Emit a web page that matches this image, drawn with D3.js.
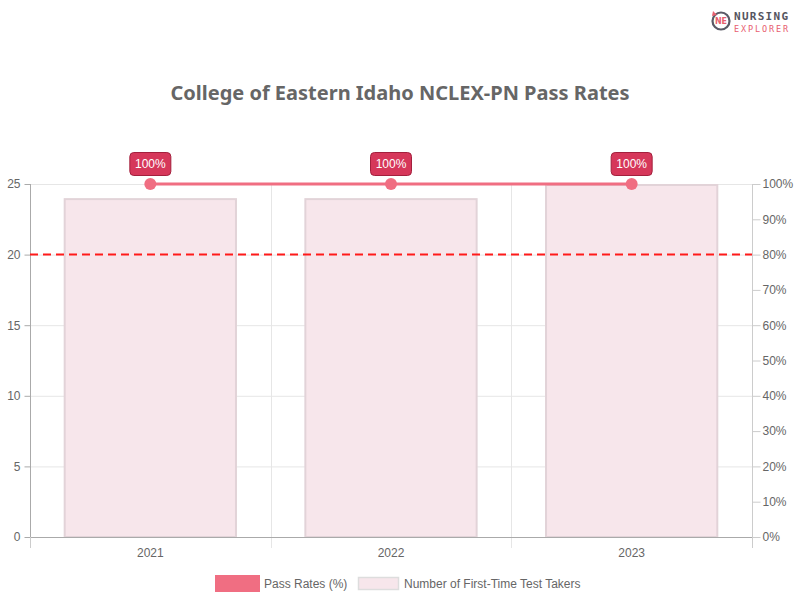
<!DOCTYPE html>
<html><head><meta charset="utf-8">
<script src="https://cdn.jsdelivr.net/npm/d3@7"></script>
<style>body{margin:0;background:#fff}svg{display:block}</style>
</head><body>
<svg id="c" width="800" height="600"></svg>
<script>
const years = ["2021","2022","2023"];
const takers = [24,24,25];
const passRates = [100,100,100];
const leftTicks = [0,5,10,15,20,25];
const rightTicks = [0,10,20,30,40,50,60,70,80,90,100];
const benchmark = 80;
const title = "College of Eastern Idaho NCLEX-PN Pass Rates";
const legendLabels = ["Pass Rates (%)","Number of First-Time Test Takers"];

const svg = d3.select("#c");
const font = "'Liberation Sans', Arial, sans-serif";
const L=30,R=752,T=184,B=537;
const x = d3.scaleBand().domain(years).range([L,R]);
const yL = d3.scaleLinear().domain([0,25]).range([B,T]);
const yR = d3.scaleLinear().domain([0,100]).range([B,T]);

// grid
svg.append("g").selectAll("line").data(leftTicks).join("line")
  .attr("x1",L).attr("x2",R).attr("y1",d=>yL(d)+0.5).attr("y2",d=>yL(d)+0.5)
  .attr("stroke","#e6e6e6");
svg.append("g").selectAll("line").data(years.slice(1)).join("line")
  .attr("x1",d=>Math.round(x(d))+0.5).attr("x2",d=>Math.round(x(d))+0.5).attr("y1",T).attr("y2",B+11)
  .attr("stroke","#e6e6e6");

// bars
const bw = x.bandwidth()*0.72;
svg.append("g").selectAll("rect").data(takers).join("rect")
  .attr("x",(d,i)=>x(years[i])+(x.bandwidth()-bw)/2+1)
  .attr("y",d=>yL(d)+1).attr("width",bw-2).attr("height",d=>B-yL(d)-1)
  .attr("fill","#f7e6eb").attr("stroke","#e2d3d8").attr("stroke-width",2);

// left axis
const gl = svg.append("g").attr("transform",`translate(${L+0.5},0)`)
  .call(d3.axisLeft(yL).tickValues(leftTicks).tickSize(6).tickPadding(4));
gl.select(".domain").attr("stroke","#aaa").attr("d",`M0,${T}V${B}`);
gl.selectAll(".tick line").attr("stroke","#aaa");
gl.selectAll("text").attr("fill","#666").style("font",`12px ${font}`);

// right axis
const gr = svg.append("g").attr("transform",`translate(${R+0.5},0)`)
  .call(d3.axisRight(yR).tickValues(rightTicks).tickFormat(d=>d+"%").tickSize(8).tickPadding(2));
gr.select(".domain").attr("stroke","#ccc").attr("d",`M0,${T}V${B}`);
gr.selectAll(".tick line").attr("stroke","#ccc");
gr.selectAll("text").attr("fill","#666").style("font",`12px ${font}`);

// bottom axis
const gb = svg.append("g").attr("transform",`translate(0,${B+0.5})`)
  .call(d3.axisBottom(x).tickSize(0).tickPadding(11));
gb.select(".domain").attr("stroke","#aaa").attr("d",`M${L},0H${R}`);
gb.selectAll("text").attr("fill","#666").style("font",`12px ${font}`);
svg.append("g").selectAll("line").data([L,R]).join("line")
  .attr("x1",d=>d+0.5).attr("x2",d=>d+0.5).attr("y1",B).attr("y2",B+11).attr("stroke","#ccc");

// benchmark
svg.append("line").attr("x1",L).attr("x2",R).attr("y1",yR(benchmark)).attr("y2",yR(benchmark))
  .attr("stroke","#ff1a1a").attr("stroke-width",2).attr("stroke-dasharray","8,5");

// line
const cx = d=>x(d)+x.bandwidth()/2;
svg.append("path").datum(passRates)
  .attr("d",d3.line().x((d,i)=>cx(years[i])).y(d=>yR(d)))
  .attr("fill","none").attr("stroke","#f06e82").attr("stroke-width",3);
svg.append("g").selectAll("circle").data(passRates).join("circle")
  .attr("cx",(d,i)=>cx(years[i])).attr("cy",d=>yR(d)).attr("r",6).attr("fill","#f06e82");

// labels
const lg = svg.append("g").selectAll("g").data(passRates).join("g")
  .attr("transform",(d,i)=>`translate(${cx(years[i])},${yR(d)-20})`);
lg.append("rect").attr("x",-20.5).attr("y",-11.5).attr("width",41).attr("height",23).attr("rx",4)
  .attr("fill","#d6375a").attr("stroke","#a3203d").attr("stroke-width",1);
lg.append("text").attr("text-anchor","middle").attr("dy","0.35em").attr("fill","#fff")
  .style("font",`12px ${font}`).text(d=>d+"%");

// title
svg.append("text").attr("x",400).attr("y",100).attr("text-anchor","middle")
  .attr("fill","#666").style("font",`bold 20px 'Noto Sans', 'Open Sans', sans-serif`).text(title);

// legend
svg.append("rect").attr("x",215).attr("y",575).attr("width",45).attr("height",17).attr("fill","#f06e82");
svg.append("text").attr("x",264).attr("y",588).attr("fill","#666").style("font",`12px ${font}`).text(legendLabels[0]);
svg.append("rect").attr("x",358.5).attr("y",577.5).attr("width",40).attr("height",12).attr("fill","#f7e6eb").attr("stroke","#ddd").attr("stroke-width",1.5);
svg.append("text").attr("x",404).attr("y",588).attr("fill","#666").style("font",`12px ${font}`).text(legendLabels[1]);

// logo
const logo = svg.append("g").attr("transform","translate(721,21)");
logo.append("circle").attr("r",8.5).attr("fill","none").attr("stroke","#5a5a66").attr("stroke-width",2.2);
logo.append("path").attr("d","M-8,-10 L-4,-6 L-9,-5 Z").attr("fill","#e8606f");
logo.append("text").attr("text-anchor","middle").attr("dy","0.35em").attr("fill","#e8606f")
  .style("font",`bold 8px 'DejaVu Sans', sans-serif`).text("NE");
svg.append("text").attr("x",734).attr("y",20).attr("fill","#55555f")
  .style("font",`bold 11px 'DejaVu Sans Mono', monospace`).attr("textLength",54).text("NURSING");
svg.append("text").attr("x",734).attr("y",31.5).attr("fill","#e8606f")
  .style("font",`8.5px 'DejaVu Sans Mono', monospace`).attr("textLength",54).text("EXPLORER");
</script>
</body></html>
